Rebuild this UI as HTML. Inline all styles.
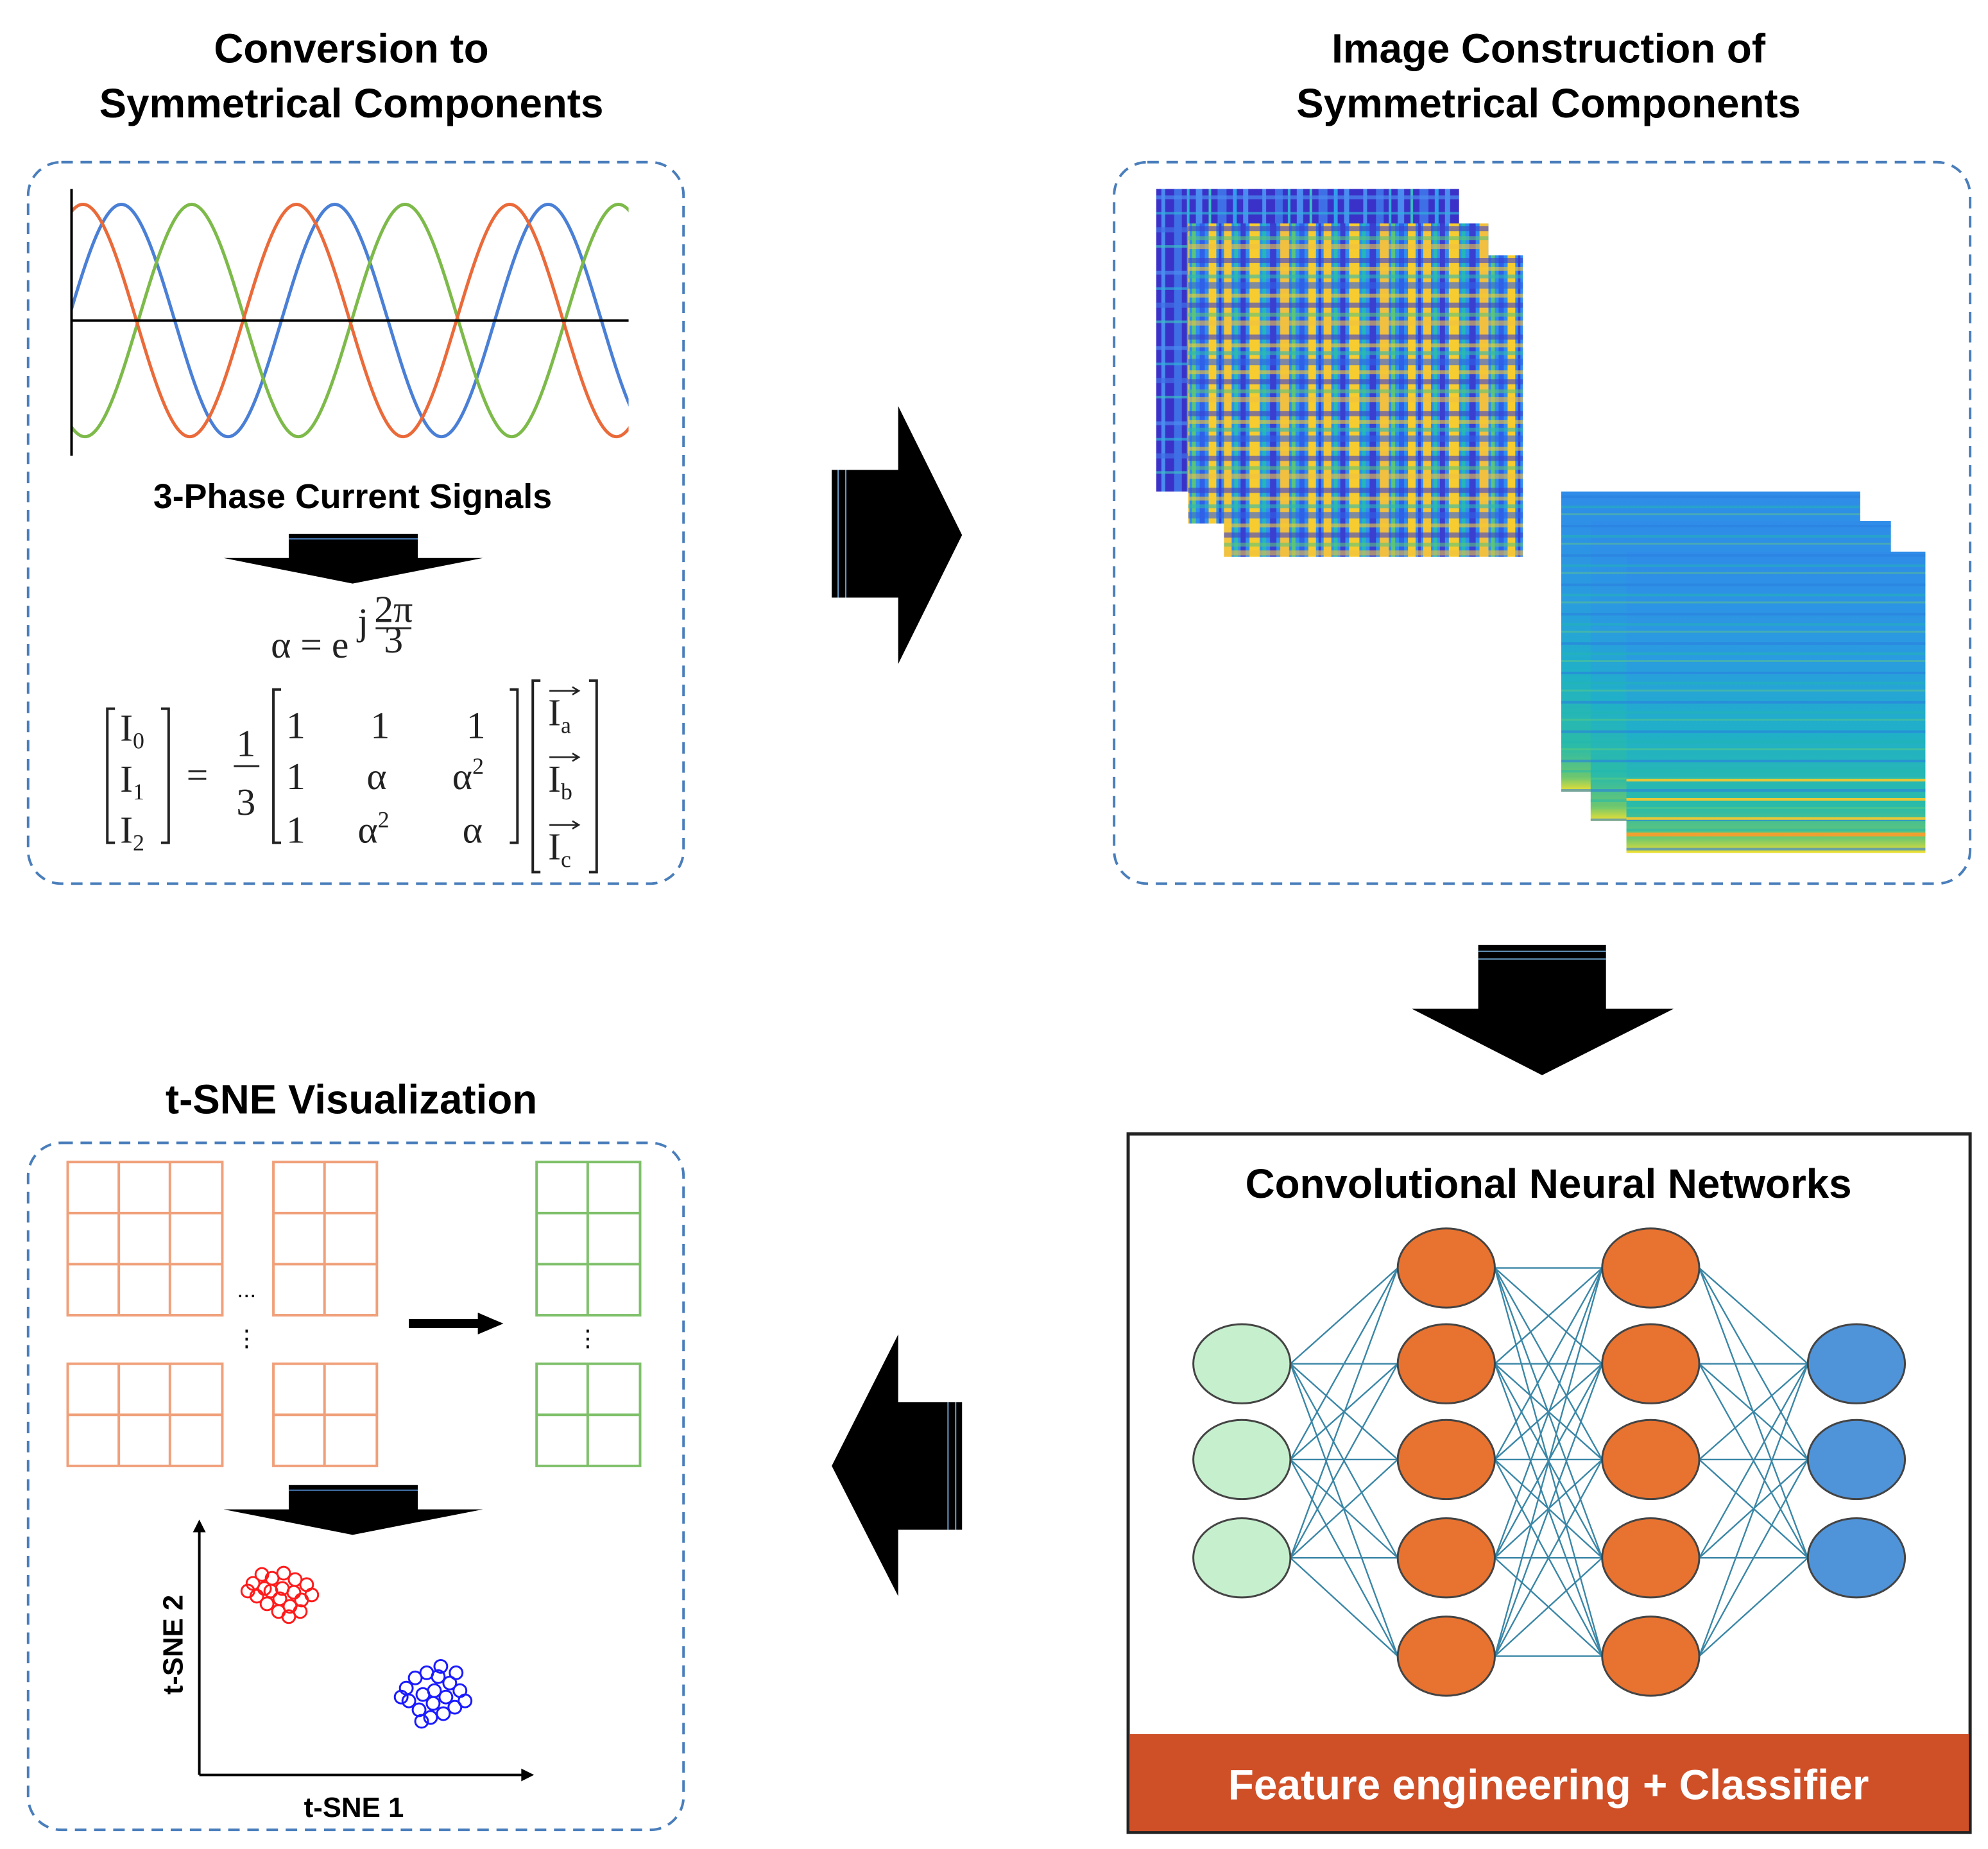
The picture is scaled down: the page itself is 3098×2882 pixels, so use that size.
<!DOCTYPE html>
<html><head><meta charset="utf-8"><style>
html,body{margin:0;padding:0;background:#fff}
svg{display:block}
text{font-family:"Liberation Sans",sans-serif}
.t{font-weight:bold;font-size:32px;fill:#000;text-anchor:middle}
.m{font-family:"Liberation Serif",serif;font-size:30px;fill:#222}
</style></head><body>
<svg width="3098" height="2882" viewBox="0 0 1556 1448" preserveAspectRatio="none" xmlns="http://www.w3.org/2000/svg">
<defs>
<clipPath id="wc"><rect x="56" y="140" width="436" height="220"/></clipPath>
<pattern id="vd" width="79" height="10" patternUnits="userSpaceOnUse" x="905">
<rect width="79" height="10" fill="#3a32c8"/>
<rect x="4" width="3" height="10" fill="#4a8cf0"/><rect x="14" width="6" height="10" fill="#3f6fe6"/>
<rect x="24" width="2" height="10" fill="#2fb0d8"/><rect x="31" width="5" height="10" fill="#4a8cf0"/>
<rect x="41" width="2" height="10" fill="#3ac0c0"/><rect x="48" width="7" height="10" fill="#3f6fe6"/>
<rect x="60" width="3" height="10" fill="#2fa0ee"/><rect x="68" width="4" height="10" fill="#4a8cf0"/>
</pattern>
<pattern id="hd" width="10" height="59" patternUnits="userSpaceOnUse" y="148">
<rect x="0" y="5" width="10" height="3" fill="#4a8cf0"/><rect x="0" y="18" width="10" height="2" fill="#2fb0d8"/>
<rect x="0" y="30" width="10" height="4" fill="#3f6fe6"/><rect x="0" y="44" width="10" height="2" fill="#3ac0c0"/>
</pattern>
<pattern id="vy" width="78" height="10" patternUnits="userSpaceOnUse" x="958">
<rect width="78" height="10" fill="#2f8ef0"/>
<rect x="0" width="6" height="10" fill="#f4c43a"/><rect x="8" width="3" height="10" fill="#2cb9b0"/>
<rect x="13" width="4" height="10" fill="#3a3fd0"/><rect x="20" width="8" height="10" fill="#f6cc30"/>
<rect x="30" width="3" height="10" fill="#24b6b8"/><rect x="36" width="5" height="10" fill="#3a3fd0"/>
<rect x="44" width="7" height="10" fill="#f1c040"/><rect x="53" width="3" height="10" fill="#5ac47a"/>
<rect x="59" width="4" height="10" fill="#2f60e8"/><rect x="66" width="6" height="10" fill="#f6cc30"/>
<rect x="74" width="2" height="10" fill="#3a3fd0"/>
</pattern>
<pattern id="hy" width="10" height="60" patternUnits="userSpaceOnUse" y="200">
<rect y="2" width="10" height="4" fill="#3a3fd0"/><rect y="9" width="10" height="3" fill="#f6cc30"/>
<rect y="15" width="10" height="3" fill="#2cb9b0"/><rect y="21" width="10" height="5" fill="#2f60e8"/>
<rect y="30" width="10" height="3" fill="#f6cc30"/><rect y="37" width="10" height="4" fill="#3a3fd0"/>
<rect y="45" width="10" height="3" fill="#5ac47a"/><rect y="51" width="10" height="4" fill="#f1c040"/>
</pattern>
<linearGradient id="sg" x1="0" y1="0" x2="0" y2="1">
<stop offset="0" stop-color="#2f8ce8"/><stop offset="0.35" stop-color="#2a9be0"/>
<stop offset="0.6" stop-color="#20b0c8"/><stop offset="0.85" stop-color="#2bbba8"/>
<stop offset="0.95" stop-color="#6cc670"/><stop offset="1" stop-color="#f0e030"/>
</linearGradient>
<pattern id="sh" width="10" height="23" patternUnits="userSpaceOnUse" y="385">
<rect y="3" width="10" height="2" fill="#2a7fe0" opacity="0.6"/><rect y="11" width="10" height="2" fill="#1fb8b0" opacity="0.5"/>
<rect y="17" width="10" height="1.5" fill="#6ccf70" opacity="0.4"/>
</pattern>
</defs>
<rect width="1556" height="1448" fill="#fff"/>
<text class="t" x="275" y="49">Conversion to</text>
<text class="t" x="275" y="92">Symmetrical Components</text>
<text class="t" x="1212" y="49">Image Construction of</text>
<text class="t" x="1212" y="92">Symmetrical Components</text>
<text class="t" x="275" y="872">t-SNE Visualization</text>

<g fill="none" stroke="#4a7ebb" stroke-width="2" stroke-dasharray="9,6">
<rect x="22" y="127" width="513" height="565" rx="26"/>
<rect x="872" y="127" width="670" height="565" rx="26"/>
<rect x="22" y="895" width="513" height="538" rx="26"/>
</g>

<g fill="none" stroke-width="2.5" clip-path="url(#wc)">
<path stroke="#4a7fd6" d="M-72,160 c29,0 54.5,182 83.5,182 s54.5,-182 83.5,-182 s54.5,182 83.5,182 s54.5,-182 83.5,-182 s54.5,182 83.5,182 s54.5,-182 83.5,-182 s54.5,182 83.5,182 s54.5,-182 83.5,-182"/>
<path stroke="#7dba4a" d="M-17,160 c29,0 54.5,182 83.5,182 s54.5,-182 83.5,-182 s54.5,182 83.5,182 s54.5,-182 83.5,-182 s54.5,182 83.5,182 s54.5,-182 83.5,-182 s54.5,182 83.5,182 s54.5,-182 83.5,-182"/>
<path stroke="#ea6a3a" d="M-102,160 c29,0 54.5,182 83.5,182 s54.5,-182 83.5,-182 s54.5,182 83.5,182 s54.5,-182 83.5,-182 s54.5,182 83.5,182 s54.5,-182 83.5,-182 s54.5,182 83.5,182 s54.5,-182 83.5,-182 s54.5,182 83.5,182"/>
</g>
<line x1="56" y1="148" x2="56" y2="357" stroke="#000" stroke-width="2"/>
<line x1="56" y1="251" x2="492" y2="251" stroke="#000" stroke-width="2"/>
<text x="276" y="398" text-anchor="middle" font-weight="bold" font-size="27">3-Phase Current Signals</text>

<g fill="#000">
<rect x="226" y="418" width="101" height="20"/>
<polygon points="175,437 378,437 276,457"/>
<rect x="226" y="1163" width="101" height="20"/>
<polygon points="175,1182 378,1182 276,1202"/>
</g>
<line x1="226" y1="422" x2="327" y2="422" stroke="#4a7ebb" stroke-width="1"/>
<line x1="226" y1="1167" x2="327" y2="1167" stroke="#4a7ebb" stroke-width="1"/>

<text class="m" x="212" y="515">α = e</text>
<text class="m" x="280" y="497" font-size="20">j</text>
<text class="m" x="308" y="487" font-size="20" text-anchor="middle">2π</text>
<line x1="294" y1="492" x2="322" y2="492" stroke="#222" stroke-width="1.5"/>
<text class="m" x="308" y="511" font-size="20" text-anchor="middle">3</text>
<g fill="none" stroke="#222" stroke-width="2">
<path d="M90,555 H84 V660 H90"/><path d="M126,555 H132 V660 H126"/>
<path d="M220,540 H214 V660 H220"/><path d="M399,540 H405 V660 H399"/>
<path d="M423,533 H417 V683 H423"/><path d="M461,533 H467 V683 H461"/>
</g>
<text class="m" x="94" y="580">I<tspan font-size="18" dy="6">0</tspan></text>
<text class="m" x="94" y="620">I<tspan font-size="18" dy="6">1</tspan></text>
<text class="m" x="94" y="660">I<tspan font-size="18" dy="6">2</tspan></text>
<text class="m" x="146" y="617">=</text>
<text class="m" x="185" y="592">1</text>
<line x1="183" y1="600" x2="203" y2="600" stroke="#222" stroke-width="1.5"/>
<text class="m" x="185" y="638">3</text>
<text class="m" x="224" y="578">1</text><text class="m" x="290" y="578">1</text><text class="m" x="365" y="578">1</text>
<text class="m" x="224" y="618">1</text><text class="m" x="287" y="618">α</text><text class="m" x="354" y="618">α<tspan font-size="18" dy="-12">2</tspan></text>
<text class="m" x="224" y="660">1</text><text class="m" x="280" y="660">α<tspan font-size="18" dy="-12">2</tspan></text><text class="m" x="362" y="660">α</text>
<text class="m" x="429" y="568">I<tspan font-size="18" dy="6">a</tspan></text>
<text class="m" x="429" y="620">I<tspan font-size="18" dy="6">b</tspan></text>
<text class="m" x="429" y="673">I<tspan font-size="18" dy="6">c</tspan></text>
<g stroke="#222" stroke-width="1.3" fill="none">
<path d="M430,541 H452 M448,538 L453,541 L448,544"/>
<path d="M430,593 H452 M448,590 L453,593 L448,596"/>
<path d="M430,646 H452 M448,643 L453,646 L448,649"/>
</g>

<g fill="#000">
<rect x="651" y="368" width="54" height="100"/>
<polygon points="703,318 753,419 703,520"/>
<rect x="1157" y="740" width="100" height="52"/>
<polygon points="1105,790 1310,790 1207,842"/>
<rect x="701" y="1098" width="52" height="100"/>
<polygon points="703,1045 651,1148 703,1250"/>
</g>
<g stroke="#6a9fc9" stroke-width="1">
<line x1="656" y1="368" x2="656" y2="468"/><line x1="662" y1="368" x2="662" y2="468"/>
<line x1="1157" y1="745" x2="1257" y2="745"/><line x1="1157" y1="751" x2="1257" y2="751"/>
<line x1="748" y1="1098" x2="748" y2="1198"/><line x1="742" y1="1098" x2="742" y2="1198"/>
</g>

<rect x="905" y="148" width="237" height="237" fill="url(#vd)"/>
<rect x="905" y="148" width="237" height="237" fill="url(#hd)" opacity="0.7"/>
<rect x="930" y="175" width="235" height="235" fill="url(#vy)"/>
<rect x="930" y="175" width="235" height="235" fill="url(#hy)" opacity="0.6"/>
<rect x="958" y="200" width="234" height="236" fill="url(#vy)"/>
<rect x="958" y="200" width="234" height="236" fill="url(#hy)" opacity="0.6"/>

<rect x="1222" y="385" width="234" height="235" fill="url(#sg)"/>
<rect x="1222" y="385" width="234" height="235" fill="url(#sh)"/>
<rect x="1245" y="408" width="235" height="235" fill="url(#sg)"/>
<rect x="1245" y="408" width="235" height="235" fill="url(#sh)"/>
<rect x="1273" y="432" width="234" height="236" fill="url(#sg)"/>
<rect x="1273" y="432" width="234" height="236" fill="url(#sh)"/>
<g fill="#e8c838"><rect x="1273" y="610" width="234" height="2"/><rect x="1273" y="625" width="234" height="2"/><rect x="1273" y="640" width="234" height="2"/><rect x="1273" y="652" width="234" height="3" fill="#f0a030"/></g>

<rect x="883" y="888" width="659" height="547" fill="#fff" stroke="#222" stroke-width="2.5"/>
<rect x="884" y="1358" width="657" height="76" fill="#cf4f27"/>
<text x="1212" y="1409" text-anchor="middle" font-weight="bold" font-size="33" fill="#fff">Feature engineering + Classifier</text>
<text class="t" x="1212" y="938">Convolutional Neural Networks</text>
<path fill="none" stroke="#3a86a6" stroke-width="1.2" d="
M1010,1068L1094,993 M1010,1068L1094,1068 M1010,1068L1094,1143 M1010,1068L1094,1220 M1010,1068L1094,1297
M1010,1143L1094,993 M1010,1143L1094,1068 M1010,1143L1094,1143 M1010,1143L1094,1220 M1010,1143L1094,1297
M1010,1220L1094,993 M1010,1220L1094,1068 M1010,1220L1094,1143 M1010,1220L1094,1220 M1010,1220L1094,1297
M1170,993L1254,993 M1170,993L1254,1068 M1170,993L1254,1143 M1170,993L1254,1220 M1170,993L1254,1297
M1170,1068L1254,993 M1170,1068L1254,1068 M1170,1068L1254,1143 M1170,1068L1254,1220 M1170,1068L1254,1297
M1170,1143L1254,993 M1170,1143L1254,1068 M1170,1143L1254,1143 M1170,1143L1254,1220 M1170,1143L1254,1297
M1170,1220L1254,993 M1170,1220L1254,1068 M1170,1220L1254,1143 M1170,1220L1254,1220 M1170,1220L1254,1297
M1170,1297L1254,993 M1170,1297L1254,1068 M1170,1297L1254,1143 M1170,1297L1254,1220 M1170,1297L1254,1297
M1330,993L1415,1068 M1330,993L1415,1143 M1330,993L1415,1220
M1330,1068L1415,1068 M1330,1068L1415,1143 M1330,1068L1415,1220
M1330,1143L1415,1068 M1330,1143L1415,1143 M1330,1143L1415,1220
M1330,1220L1415,1068 M1330,1220L1415,1143 M1330,1220L1415,1220
M1330,1297L1415,1068 M1330,1297L1415,1143 M1330,1297L1415,1220"/>
<g stroke="#444" stroke-width="1.5">
<g fill="#c6efce"><ellipse cx="972" cy="1068" rx="38" ry="31"/><ellipse cx="972" cy="1143" rx="38" ry="31"/><ellipse cx="972" cy="1220" rx="38" ry="31"/></g>
<g fill="#e8722f">
<ellipse cx="1132" cy="993" rx="38" ry="31"/><ellipse cx="1132" cy="1068" rx="38" ry="31"/><ellipse cx="1132" cy="1143" rx="38" ry="31"/><ellipse cx="1132" cy="1220" rx="38" ry="31"/><ellipse cx="1132" cy="1297" rx="38" ry="31"/>
<ellipse cx="1292" cy="993" rx="38" ry="31"/><ellipse cx="1292" cy="1068" rx="38" ry="31"/><ellipse cx="1292" cy="1143" rx="38" ry="31"/><ellipse cx="1292" cy="1220" rx="38" ry="31"/><ellipse cx="1292" cy="1297" rx="38" ry="31"/>
</g>
<g fill="#4f93d9"><ellipse cx="1453" cy="1068" rx="38" ry="31"/><ellipse cx="1453" cy="1143" rx="38" ry="31"/><ellipse cx="1453" cy="1220" rx="38" ry="31"/></g>
</g>

<g fill="none" stroke="#f0a07a" stroke-width="2">
<rect x="53" y="910" width="121" height="120"/><path d="M93,910V1030M133,910V1030M53,950H174M53,990H174"/>
<rect x="214" y="910" width="81" height="120"/><path d="M254,910V1030M214,950H295M214,990H295"/>
<rect x="53" y="1068" width="121" height="80"/><path d="M93,1068V1148M133,1068V1148M53,1108H174"/>
<rect x="214" y="1068" width="81" height="80"/><path d="M254,1068V1148M214,1108H295"/>
</g>
<g fill="none" stroke="#7fc06a" stroke-width="2">
<rect x="420" y="910" width="81" height="120"/><path d="M460,910V1030M420,950H501M420,990H501"/>
<rect x="420" y="1068" width="81" height="80"/><path d="M460,1068V1148M420,1108H501"/>
</g>
<text x="193" y="1016" text-anchor="middle" font-size="18">...</text>
<text x="193" y="1054" text-anchor="middle" font-size="18">⋮</text>
<text x="460" y="1054" text-anchor="middle" font-size="18">⋮</text>
<rect x="320" y="1033" width="56" height="7" fill="#000"/>
<polygon points="374,1028 394,1036.5 374,1045" fill="#000"/>

<line x1="156" y1="1390" x2="156" y2="1198" stroke="#000" stroke-width="2"/>
<polygon points="151,1200 156,1190 161,1200" fill="#000"/>
<line x1="156" y1="1390" x2="410" y2="1390" stroke="#000" stroke-width="2"/>
<polygon points="408,1385 418,1390 408,1395" fill="#000"/>
<text x="277" y="1423" text-anchor="middle" font-weight="bold" font-size="22">t-SNE 1</text>
<text x="143" y="1288" text-anchor="middle" font-weight="bold" font-size="22" transform="rotate(-90 143 1288)">t-SNE 2</text>
<g fill="none" stroke-width="1.5" stroke="#ff1a1a">
<circle cx="198" cy="1240" r="5"/><circle cx="205" cy="1233" r="5"/><circle cx="213" cy="1236" r="5"/><circle cx="222" cy="1232" r="5"/><circle cx="231" cy="1237" r="5"/><circle cx="240" cy="1241" r="5"/><circle cx="244" cy="1249" r="5"/><circle cx="236" cy="1253" r="5"/><circle cx="227" cy="1258" r="5"/><circle cx="218" cy="1262" r="5"/><circle cx="209" cy="1256" r="5"/><circle cx="201" cy="1250" r="5"/><circle cx="212" cy="1246" r="5"/><circle cx="221" cy="1244" r="5"/><circle cx="230" cy="1247" r="5"/><circle cx="219" cy="1252" r="5"/><circle cx="194" cy="1246" r="5"/><circle cx="226" cy="1266" r="5"/><circle cx="235" cy="1262" r="5"/><circle cx="207" cy="1244" r="5"/>
</g>
<g fill="none" stroke-width="1.5" stroke="#1a1aff">
<circle cx="318" cy="1322" r="5"/><circle cx="325" cy="1314" r="5"/><circle cx="334" cy="1310" r="5"/><circle cx="343" cy="1313" r="5"/><circle cx="352" cy="1318" r="5"/><circle cx="360" cy="1324" r="5"/><circle cx="364" cy="1332" r="5"/><circle cx="356" cy="1337" r="5"/><circle cx="347" cy="1342" r="5"/><circle cx="337" cy="1345" r="5"/><circle cx="328" cy="1339" r="5"/><circle cx="320" cy="1332" r="5"/><circle cx="331" cy="1327" r="5"/><circle cx="340" cy="1324" r="5"/><circle cx="349" cy="1329" r="5"/><circle cx="339" cy="1334" r="5"/><circle cx="314" cy="1329" r="5"/><circle cx="345" cy="1305" r="5"/><circle cx="357" cy="1310" r="5"/><circle cx="330" cy="1348" r="5"/>
</g>
</svg>
</body></html>
